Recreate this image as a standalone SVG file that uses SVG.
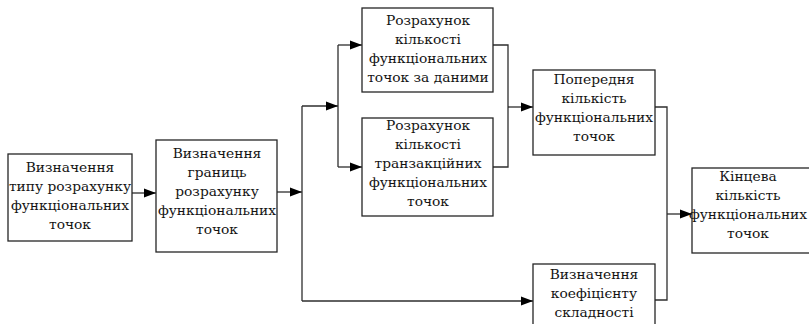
<svg xmlns="http://www.w3.org/2000/svg" width="809" height="324" viewBox="0 0 809 324">
  <style>
    .box { fill: #ffffff; stroke: #262626; stroke-width: 1.3; }
    .lbl { font-family: 'DejaVu Serif', 'Liberation Serif', serif; font-size: 13.8px; fill: #141414; text-anchor: middle; }
    .wire { fill: none; stroke: #2e2e2e; stroke-width: 1.3; }
    .arr { fill: none; stroke: #2e2e2e; stroke-width: 1.3; marker-end: url(#head); }
  </style>
  <defs>
    <!-- solid triangular arrowhead, tip on the path end -->
    <marker id="head" markerUnits="userSpaceOnUse" markerWidth="13" markerHeight="10" refX="12" refY="5" orient="auto">
      <path d="M0,0.5 L12,5 L0,9.5 Z" fill="#000000"/>
    </marker>
  </defs>
  <rect width="809" height="324" fill="#ffffff"/>

  <g id="connectors">
    <path class="arr" d="M132,193 H156"/>
    <path class="arr" d="M277,192 H302"/>
    <path class="wire" d="M302,106 V301"/>
    <path class="arr" d="M302,106 H338"/>
    <path class="wire" d="M338,45 V167"/>
    <path class="arr" d="M338,45 H362"/>
    <path class="arr" d="M338,167 H362"/>
    <path class="wire" d="M493,45 H508 V167 H493"/>
    <path class="arr" d="M508,107 H533"/>
    <path class="arr" d="M302,301 H533"/>
    <path class="wire" d="M655,107 H667 V300 H655"/>
    <path class="arr" d="M667,214 H692"/>
  </g>

  <g id="type-of-count">
    <rect class="box" x="8" y="154" width="124" height="87"/>
    <text class="lbl" x="70" y="172">Визначення</text>
    <text class="lbl" x="70" y="191">типу розрахунку</text>
    <text class="lbl" x="70" y="210">функціональних</text>
    <text class="lbl" x="70" y="229">точок</text>
  </g>

  <g id="count-boundaries">
    <rect class="box" x="156" y="140" width="121" height="112"/>
    <text class="lbl" x="217" y="158">Визначення</text>
    <text class="lbl" x="217" y="177">границь</text>
    <text class="lbl" x="217" y="196">розрахунку</text>
    <text class="lbl" x="217" y="215">функціональних</text>
    <text class="lbl" x="217" y="234">точок</text>
  </g>

  <g id="data-points">
    <rect class="box" x="362" y="8" width="131" height="84"/>
    <text class="lbl" x="428" y="25">Розрахунок</text>
    <text class="lbl" x="428" y="44">кількості</text>
    <text class="lbl" x="428" y="63">функціональних</text>
    <text class="lbl" x="428" y="82">точок за даними</text>
  </g>

  <g id="transaction-points">
    <rect class="box" x="362" y="118" width="131" height="98"/>
    <text class="lbl" x="428" y="130">Розрахунок</text>
    <text class="lbl" x="428" y="149">кількості</text>
    <text class="lbl" x="428" y="168">транзакційних</text>
    <text class="lbl" x="428" y="187">функціональних</text>
    <text class="lbl" x="428" y="206">точок</text>
  </g>

  <g id="preliminary-count">
    <rect class="box" x="533" y="70" width="122" height="85"/>
    <text class="lbl" x="594" y="84">Попередня</text>
    <text class="lbl" x="594" y="103">кількість</text>
    <text class="lbl" x="594" y="122">функціональних</text>
    <text class="lbl" x="594" y="141">точок</text>
  </g>

  <g id="complexity-factor">
    <rect class="box" x="533" y="264" width="122" height="70"/>
    <text class="lbl" x="594" y="279">Визначення</text>
    <text class="lbl" x="594" y="298">коефіцієнту</text>
    <text class="lbl" x="594" y="317">складності</text>
  </g>

  <g id="final-count">
    <rect class="box" x="692" y="168" width="125" height="85"/>
    <text class="lbl" x="748" y="181">Кінцева</text>
    <text class="lbl" x="748" y="200">кількість</text>
    <text class="lbl" x="748" y="219">функціональних</text>
    <text class="lbl" x="748" y="238">точок</text>
  </g>
</svg>
